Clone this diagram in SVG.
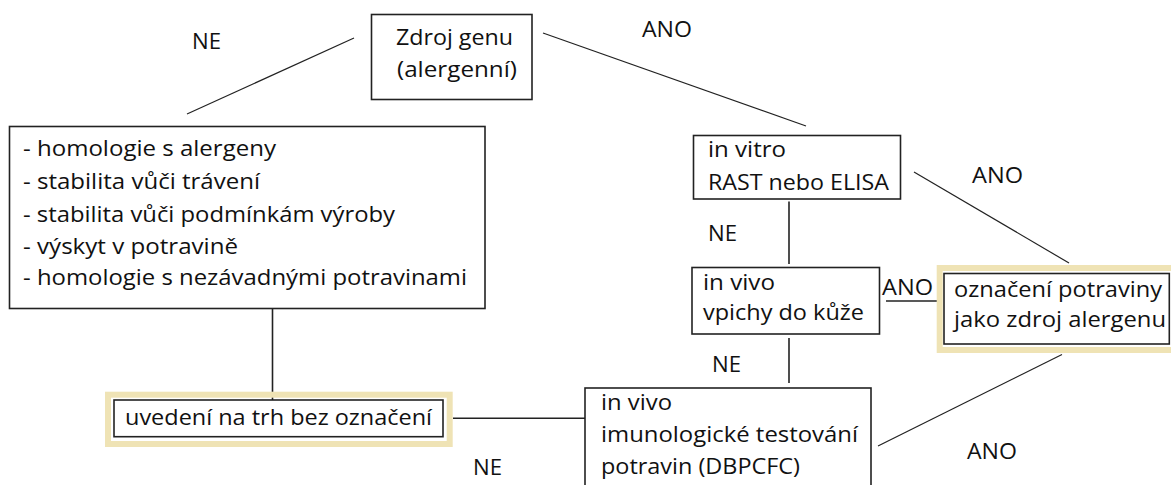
<svg xmlns="http://www.w3.org/2000/svg" width="1171" height="485" viewBox="0 0 1171 485">
<style>
text{font-family:"Open Sans","Noto Sans","Liberation Sans",sans-serif;font-size:22.5px;fill:#111}
.box{fill:#fff;stroke:#222;stroke-width:1.6}
.hl{fill:none;stroke:#EFE3B5;stroke-width:6}
.c{stroke:#222;stroke-width:1.6;fill:none}
.d{stroke:#222;stroke-width:1.2;fill:none}
</style>
<rect width="1171" height="485" fill="#fff"/>
<g id="connectors">
<line class="d" x1="187" y1="114" x2="354" y2="38"/>
<line class="d" x1="543" y1="33" x2="806" y2="126"/>
<line class="c" x1="272.5" y1="309" x2="272.5" y2="400"/>
<line class="c" x1="789" y1="201.5" x2="789" y2="264"/>
<line class="d" x1="914" y1="172" x2="1069" y2="263"/>
<line class="c" x1="886" y1="301" x2="937" y2="301"/>
<line class="c" x1="789" y1="338" x2="789" y2="383"/>
<line class="c" x1="453" y1="418.3" x2="585" y2="418.3"/>
<line class="d" x1="878" y1="446" x2="1062" y2="354.5"/>
</g>
<g id="labels">
<text x="192" y="49" textLength="29" lengthAdjust="spacingAndGlyphs">NE</text>
<text x="642" y="37" textLength="50" lengthAdjust="spacingAndGlyphs">ANO</text>
<text x="972" y="183" textLength="51" lengthAdjust="spacingAndGlyphs">ANO</text>
<text x="708" y="241" textLength="29" lengthAdjust="spacingAndGlyphs">NE</text>
<text x="882" y="295" textLength="51" lengthAdjust="spacingAndGlyphs">ANO</text>
<text x="712" y="372" textLength="29" lengthAdjust="spacingAndGlyphs">NE</text>
<text x="967" y="459" textLength="50" lengthAdjust="spacingAndGlyphs">ANO</text>
<text x="473" y="475" textLength="29" lengthAdjust="spacingAndGlyphs">NE</text>
</g>
<g id="zdroj">
<rect class="box" x="371.5" y="14.5" width="160.5" height="85"/>
<text x="396" y="45" textLength="117" lengthAdjust="spacingAndGlyphs">Zdroj genu</text>
<text x="397" y="77" textLength="120" lengthAdjust="spacingAndGlyphs">(alergenní)</text>
</g>
<g id="kriteria">
<rect class="box" x="9.5" y="126.5" width="475.5" height="182"/>
<text x="23" y="156" textLength="253" lengthAdjust="spacingAndGlyphs">- homologie s alergeny</text>
<text x="23" y="188.5" textLength="237" lengthAdjust="spacingAndGlyphs">- stabilita vůči trávení</text>
<text x="23" y="221.5" textLength="372" lengthAdjust="spacingAndGlyphs">- stabilita vůči podmínkám výroby</text>
<text x="23" y="253.5" textLength="215" lengthAdjust="spacingAndGlyphs">- výskyt v potravině</text>
<text x="23" y="285" textLength="444" lengthAdjust="spacingAndGlyphs">- homologie s nezávadnými potravinami</text>
</g>
<g id="invitro">
<rect class="box" x="693.5" y="135.5" width="207" height="63.5"/>
<text x="708" y="157" textLength="78" lengthAdjust="spacingAndGlyphs">in vitro</text>
<text x="708" y="189.5" textLength="181" lengthAdjust="spacingAndGlyphs">RAST nebo ELISA</text>
</g>
<g id="invivo-kuze">
<rect class="box" x="692" y="267.5" width="187.5" height="66.5"/>
<text x="703" y="290" textLength="72" lengthAdjust="spacingAndGlyphs">in vivo</text>
<text x="703" y="319.5" textLength="161" lengthAdjust="spacingAndGlyphs">vpichy do kůže</text>
</g>
<g id="oznaceni">
<rect class="hl" x="939.7" y="268" width="240" height="82"/>
<rect class="box" x="944" y="273.5" width="225.3" height="70.5"/>
<text x="954" y="297" textLength="208" lengthAdjust="spacingAndGlyphs">označení potraviny</text>
<text x="954" y="327" textLength="212" lengthAdjust="spacingAndGlyphs">jako zdroj alergenu</text>
</g>
<g id="dbpcfc">
<rect class="box" x="585" y="388" width="286" height="110"/>
<text x="601" y="410" textLength="71" lengthAdjust="spacingAndGlyphs">in vivo</text>
<text x="601" y="442" textLength="257" lengthAdjust="spacingAndGlyphs">imunologické testování</text>
<text x="601" y="474" textLength="199" lengthAdjust="spacingAndGlyphs">potravin (DBPCFC)</text>
</g>
<g id="trh">
<rect class="hl" x="108" y="394.7" width="341.7" height="49.3"/>
<rect class="box" x="114" y="400" width="329" height="36.7"/>
<text x="125" y="425" textLength="307" lengthAdjust="spacingAndGlyphs">uvedení na trh bez označení</text>
</g>
</svg>
